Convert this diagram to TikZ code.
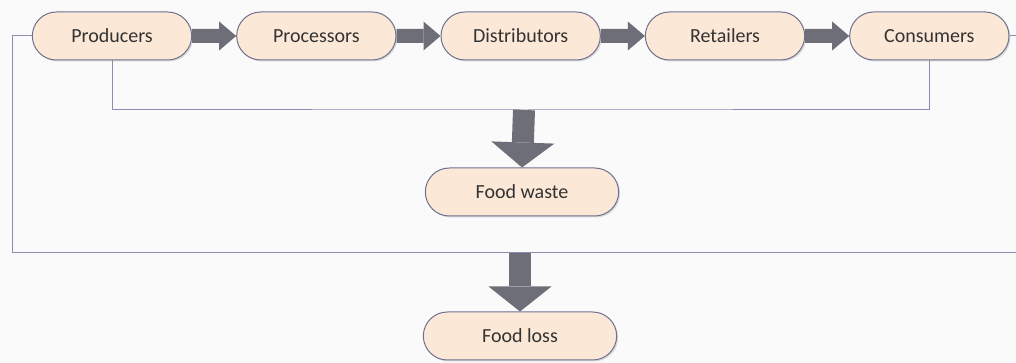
\documentclass[tikz,border=0pt]{standalone}
\usepackage{fontspec}
\setmainfont{Carlito}
\usetikzlibrary{positioning,shapes.misc,arrows.meta,shadows}
\definecolor{stagefill}{HTML}{FCE8D6}
\definecolor{stageline}{HTML}{6F7090}
\definecolor{flowline}{HTML}{8A8CB0}
\definecolor{bigarrow}{HTML}{6E6E78}
\begin{document}
\begin{tikzpicture}
[x=1pt,y=1pt,
stage/.style={draw=stageline,line width=1pt,rounded rectangle,fill=stagefill,minimum width=166pt,minimum height=48pt,text=black!80,font=\fontsize{20}{22}\selectfont,drop shadow={shadow xshift=1.5pt,shadow yshift=-1.5pt,opacity=0.25}},
result/.style={stage,minimum width=200pt},
flow/.style={draw=flowline,line width=1pt},
fat/.style={draw=bigarrow,line width=14pt,-{Triangle[width=29pt,length=17pt,line width=0pt]}},
drop/.style={draw=bigarrow,line width=22pt,-{Triangle[width=63pt,length=25pt,line width=0pt]}},
node distance=44pt]
	\fill[black!2] (0,0) rectangle (1016,363);
	\useasboundingbox (0,0) rectangle (1016,363);
	% supply chain
	\node[stage] (prod) at (112,327) {Producers};
	\node[stage,right=of prod] (proc) {Processors};
	\node[stage,right=of proc] (dist) {Distributors};
	\node[stage,right=of dist] (ret) {Retailers};
	\node[stage,right=of ret] (cons) {Consumers};
	\draw[fat] (prod) -- (proc);
	\draw[fat] (proc) -- (dist);
	\draw[fat] (dist) -- (ret);
	\draw[fat] (ret) -- (cons);
	% waste and loss
	\node[result] (waste) at (522,171) {Food waste};
	\node[result] (loss) at (520,27) {Food loss};
	\coordinate (wastebar) at (524,253);
	\coordinate (lossbar) at (520,110);
	\coordinate (lossleft) at (12,110);
	\coordinate (lossright) at (1016,110);
	\draw[flow] (prod.south) |- (wastebar) -| (cons.south);
	\draw[flow] (prod.west) -| (lossleft) -- (lossright);
	\draw[flow] (cons.east) -- (cons.east -| lossright);
	\draw[drop] (wastebar) -- (waste.north);
	\draw[drop] (lossbar) -- (loss.north);
\end{tikzpicture}
\end{document}
